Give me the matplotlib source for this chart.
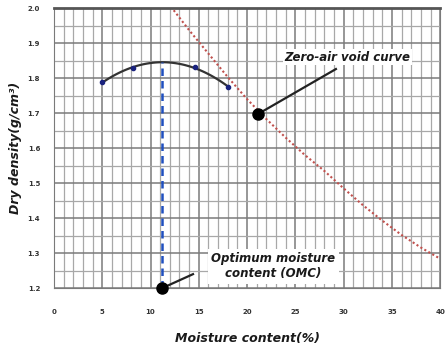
import numpy as np
import matplotlib.pyplot as plt

# compaction test points (moisture %, dry density g/cm3)
moisture = [5.0, 8.2, 14.6, 18.0]
dry_density = [1.789, 1.828, 1.832, 1.775]

# zero-air void curve
zav_moisture = [12.4, 14, 16, 18, 20, 22, 24, 26, 28, 30, 32, 34, 36, 38, 40]
zav_density = [1.994, 1.937, 1.870, 1.803, 1.740, 1.683, 1.630, 1.580,
               1.535, 1.485, 1.437, 1.393, 1.352, 1.316, 1.284]

omc = 11.2
max_density = 1.847
zav_marker = (21.1, 1.697)

x_ticks = list(range(0, 41, 5))
y_ticks = [1.2, 1.3, 1.4, 1.5, 1.6, 1.7, 1.8, 1.9, 2.0]

fig = plt.figure(figsize=(4.46, 3.54), dpi=100)
ax = fig.add_axes([0.121, 0.186, 0.866, 0.791])

ax.set_xlim(0, 40)
ax.set_ylim(1.2, 2.0)
ax.set_xticks(x_ticks)
ax.set_xticklabels([str(v) for v in x_ticks], fontweight='bold')
ax.set_yticks(y_ticks)
ax.set_yticklabels(['%.1f' % v for v in y_ticks], fontweight='bold')
ax.set_xticks(np.arange(0, 41, 1), minor=True)
ax.set_yticks(np.arange(1.2, 2.001, 0.05), minor=True)
ax.grid(which='major', color='#7a7a7a', linewidth=1.1)
ax.grid(which='minor', color='#a8a8a8', linewidth=0.9)
ax.set_axisbelow(True)
for s in ax.spines.values():
    s.set_color('#7a7a7a')
ax.spines['top'].set_linewidth(2.0)
ax.spines['top'].set_color('#555555')
ax.tick_params(which='both', length=0, labelsize=5, colors='#333333', pad=10)
ax.tick_params(axis='x', pad=15)

# fitted compaction curve
coef = np.polyfit(moisture, dry_density, 2)
xs = np.linspace(moisture[0], moisture[-1], 100)
ax.plot(xs, np.polyval(coef, xs), color='#333333', linewidth=1.6, zorder=3)
ax.plot(moisture, dry_density, 'o', color='#1a237e', markersize=3, zorder=4)

# zero air void curve
ax.plot(zav_moisture, zav_density, color='#c0504d', linewidth=1.5,
        linestyle=(0, (1, 1.2)), zorder=3)

# OMC line
ax.plot([omc, omc], [1.2, max_density], color='#1f4fbf', linewidth=1.8,
        linestyle=(0, (3, 2)), zorder=3)

# annotation leaders and markers
ax.plot([zav_marker[0], 29.2], [zav_marker[1], 1.826], color='#222222',
        linewidth=1.6, zorder=5)
ax.plot([omc, 14.4], [1.2, 1.24], color='#222222', linewidth=1.6,
        zorder=5, clip_on=False)
ax.plot([omc], [1.2], 'o', color='black', markersize=8, clip_on=False, zorder=6)
ax.plot(*zav_marker, 'o', color='black', markersize=8, zorder=6)

ax.text(30.4, 1.86, 'Zero-air void curve', fontsize=8.5, fontweight='bold',
        fontstyle='italic', color='#1a1a1a', ha='center', va='center',
        bbox=dict(boxstyle='square,pad=0.1', fc='white', ec='none'), zorder=5)
ax.text(22.7, 1.263, 'Optimum moisture\ncontent (OMC)', fontsize=8.5,
        fontweight='bold', fontstyle='italic', color='#1a1a1a',
        ha='center', va='center', linespacing=1.2,
        bbox=dict(boxstyle='square,pad=0.3', fc='white', ec='none'), zorder=5)

ax.set_xlabel('Moisture content(%)', fontsize=9, fontweight='bold',
              fontstyle='italic', color='#1a1a1a', labelpad=12)
ax.set_ylabel('Dry density(g/cm³)', fontsize=9, fontweight='bold',
              fontstyle='italic', color='#1a1a1a', labelpad=4)

fig.savefig('out.png', dpi=100)
